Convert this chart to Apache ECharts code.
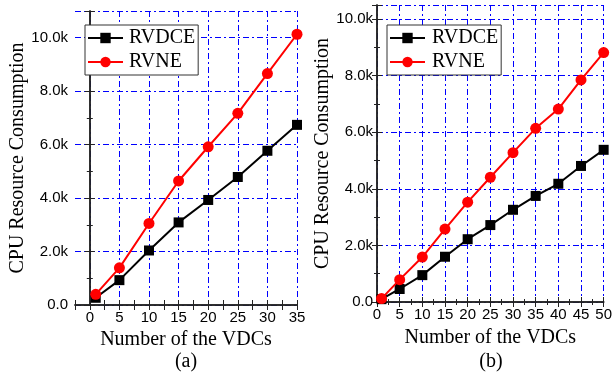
<!DOCTYPE html>
<html>
<head>
<meta charset="utf-8">
<script src="https://cdn.jsdelivr.net/npm/echarts@6/dist/echarts.min.js"></script>
<style>
  html, body { margin: 0; padding: 0; background: #fff; }
  #chart { width: 615px; height: 372px; }
</style>
</head>
<body>
<div id="chart"></div>
<script>
// panel (a)
const vdcsA = [1, 5, 10, 15, 20, 25, 30, 35];
const rvdceA = [270, 930, 2040, 3090, 3930, 4790, 5770, 6740];
const rvneA = [400, 1390, 3050, 4640, 5920, 7170, 8660, 10130];

// panel (b)
const vdcsB = [1, 5, 10, 15, 20, 25, 30, 35, 40, 45, 50];
const rvdceB = [100, 460, 950, 1600, 2220, 2720, 3260, 3750, 4180, 4810, 5380];
const rvneB = [120, 790, 1590, 2580, 3530, 4410, 5280, 6140, 6820, 7850, 8820];

const seriesNames = ['RVDCE', 'RVNE'];
const panelLabels = ['(a)', '(b)'];
const xTitle = 'Number of the VDCs';
const yTitle = 'CPU Resource Consumption';

const serif = 'Liberation Serif';
const sans = 'Liberation Sans';
const blue = '#0000ff';
const dashDot = [6, 3, 2, 3];

const pair = (xs, ys) => xs.map((x, i) => [x, ys[i]]);

// 0.0, 2.0k, 4.0k ...
const kFormat = v => (v === 0 ? '0.0' : (v / 1000).toFixed(1) + 'k');

const axisLine = { show: true, lineStyle: { color: '#222', width: 1.5 } };

const makeX = (grid, min, max, interval, bottom) => ({
  type: 'value',
  gridIndex: grid,
  position: bottom ? 'bottom' : 'top',
  min: min,
  max: max,
  interval: interval,
  axisLine: axisLine,
  axisTick: { show: true, inside: true, length: 5, lineStyle: { color: '#222', width: 1 } },
  minorTick: { show: interval === 5, splitNumber: 2, length: 3, lineStyle: { color: '#222' } },
  axisLabel: {
    show: bottom,
    margin: 5,
    fontFamily: sans,
    fontSize: 15,
    color: '#000',
    formatter: v => (v % 5 === 0 ? String(v) : '')
  },
  splitLine: { show: false }
});

const makeY = (grid, max, left) => ({
  type: 'value',
  gridIndex: grid,
  position: left ? 'left' : 'right',
  min: 0,
  max: max,
  interval: 2000,
  axisLine: axisLine,
  axisTick: { show: true, inside: true, length: 5, lineStyle: { color: '#222', width: 1 } },
  minorTick: { show: true, splitNumber: 2, length: 3, lineStyle: { color: '#222' } },
  axisLabel: {
    show: left,
    showMaxLabel: false,
    margin: grid === 0 ? 7 : 4,
    fontFamily: sans,
    fontSize: 15,
    color: '#000',
    formatter: kFormat
  },
  splitLine: { show: left, lineStyle: { color: blue, width: 1, type: dashDot } }
});

const xAxes = [
  makeX(0, -2.5, 35, 2.5, true),
  makeX(0, -2.5, 35, 2.5, false),
  makeX(1, 0, 50, 5, true),
  makeX(1, 0, 50, 5, false)
];
// (a) starts at -2.5, so only every second line is drawn
xAxes[0].splitLine = { show: true, lineStyle: { color: ['rgba(0,0,0,0)', blue], width: 1, type: dashDot } };
xAxes[2].splitLine = { show: true, lineStyle: { color: blue, width: 1, type: dashDot } };
xAxes[0].name = xTitle;
xAxes[2].name = xTitle;

const yAxes = [makeY(0, 11000, true), makeY(0, 11000, false), makeY(1, 10500, true), makeY(1, 10500, false)];
yAxes[0].name = yTitle;
yAxes[2].name = yTitle;

xAxes.forEach((a, i) => {
  if (a.name) {
    a.nameLocation = 'middle';
    a.nameGap = i === 0 ? 23 : 26;
    a.nameTextStyle = { fontFamily: serif, fontSize: 20, color: '#000' };
  }
});
yAxes.forEach((a, i) => {
  if (a.name) {
    a.nameLocation = 'middle';
    a.nameGap = i === 0 ? 47 : 44;
    a.nameTextStyle = { fontFamily: serif, fontSize: 20, color: '#000' };
  }
});

const lineSeries = (name, data, xi, yi) => ({
  name: name,
  type: 'line',
  xAxisIndex: xi,
  yAxisIndex: yi,
  data: data,
  symbol: name === 'RVDCE' ? 'rect' : 'circle',
  symbolSize: name === 'RVDCE' ? 10 : 11,
  showAllSymbol: true,
  color: name === 'RVDCE' ? '#000' : '#ff0000',
  lineStyle: { width: 2 },
  itemStyle: { opacity: 1 },
  animation: false,
  z: name === 'RVDCE' ? 3 : 4
});

const legend = (left, textGap) => ({
  left: left,
  top: 25,
  orient: 'vertical',
  data: seriesNames,
  itemWidth: 35,
  itemHeight: 13,
  itemGap: 4,
  padding: [3, 3, 3, 2],
  backgroundColor: '#fff',
  borderColor: '#333',
  borderWidth: 1,
  borderRadius: 0,
  selectedMode: false,
  textStyle: { fontFamily: serif, fontSize: 20, color: '#000', padding: [0, 0, 0, textGap] }
});

const chart = echarts.init(document.getElementById('chart'));
chart.setOption({
  backgroundColor: '#fff',
  animation: false,
  grid: [
    { left: 75, top: 11, width: 222, height: 294 },
    { left: 377, top: 5, width: 227, height: 297 }
  ],
  xAxis: xAxes,
  yAxis: yAxes,
  legend: [legend(85, 1), legend(387, 2)],
  series: [
    lineSeries(seriesNames[0], pair(vdcsA, rvdceA), 0, 0),
    lineSeries(seriesNames[1], pair(vdcsA, rvneA), 0, 0),
    lineSeries(seriesNames[0], pair(vdcsB, rvdceB), 2, 2),
    lineSeries(seriesNames[1], pair(vdcsB, rvneB), 2, 2)
  ],
  graphic: [
    { type: 'text', x: 186, y: 362, style: { text: panelLabels[0], font: '20px "Liberation Serif"', fill: '#000', align: 'center', verticalAlign: 'middle' } },
    { type: 'text', x: 491, y: 362, style: { text: panelLabels[1], font: '20px "Liberation Serif"', fill: '#000', align: 'center', verticalAlign: 'middle' } }
  ]
});

window.addEventListener('resize', () => chart.resize());
</script>
</body>
</html>
